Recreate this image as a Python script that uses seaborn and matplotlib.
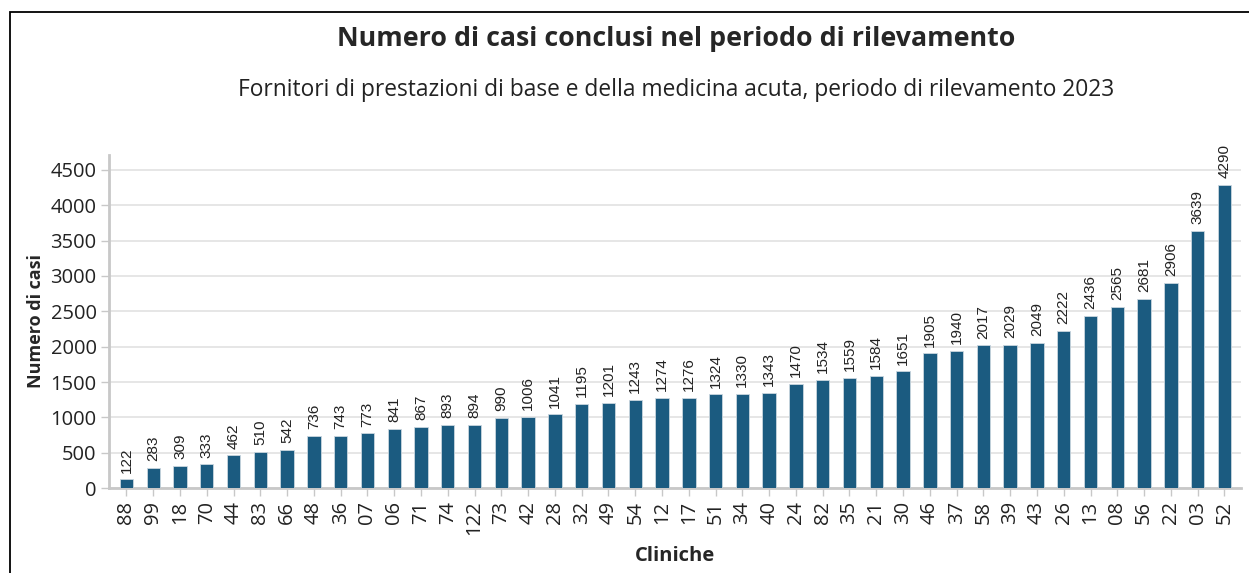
import matplotlib
matplotlib.use("Agg")
import matplotlib.pyplot as plt
import pandas as pd
import seaborn as sns
from matplotlib.patches import Rectangle

# Data
cliniche = ['88', '99', '18', '70', '44', '83', '66', '48', '36', '07', '06', '71', '74', '122',
            '73', '42', '28', '32', '49', '54', '12', '17', '51', '34', '40', '24', '82', '35',
            '21', '30', '46', '37', '58', '39', '43', '26', '13', '08', '56', '22', '03', '52']
casi = [122, 283, 309, 333, 462, 510, 542, 736, 743, 773, 841, 867, 893, 894,
        990, 1006, 1041, 1195, 1201, 1243, 1274, 1276, 1324, 1330, 1343, 1470, 1534, 1559,
        1584, 1651, 1905, 1940, 2017, 2029, 2049, 2222, 2436, 2565, 2681, 2906, 3639, 4290]
y_ticks = [0, 500, 1000, 1500, 2000, 2500, 3000, 3500, 4000, 4500]

df = pd.DataFrame({'clinica': cliniche, 'casi': casi})

sns.set_theme(style='white')
plt.rcParams['font.family'] = ['Open Sans', 'DejaVu Sans']

bar_color = '#1b5b80'
fig = plt.figure(figsize=(12.49, 5.73), dpi=100)
ax = fig.add_axes([0.0873, 0.1483, 0.9063, 0.5812])

sns.barplot(data=df, x='clinica', y='casi', color=bar_color, width=0.5,
            edgecolor='#c9d6df', linewidth=0.6, saturation=1, ax=ax, zorder=3)

# value labels above bars
for i, v in enumerate(casi):
    ax.text(i, v + 95, str(v), rotation=90, ha='center', va='bottom',
            fontsize=11, family='Liberation Sans', color='#222222')

ax.set_ylim(0, 4712)
ax.set_xlim(-0.65, len(cliniche) - 1 + 0.62)
ax.set_yticks(y_ticks)
ax.set_yticklabels([str(t) for t in y_ticks], fontsize=14.5, color='#222222')
ax.set_xticks(range(len(cliniche)))
ax.set_xticklabels(cliniche, rotation=90, fontsize=14.5, color='#222222')
ax.grid(axis='y', color='#e2e2e2', linewidth=1.2, zorder=0)

for s in ['top', 'right']:
    ax.spines[s].set_visible(False)
for s in ['left', 'bottom']:
    ax.spines[s].set_color('#c8c8c8')
    ax.spines[s].set_linewidth(2)
ax.tick_params(axis='both', which='both', length=6, width=1, color='#c8c8c8',
               left=True, bottom=True, pad=3)

ax.set_xlabel('Cliniche', fontsize=14.5, fontweight='bold', labelpad=8)
ax.set_ylabel('Numero di casi', fontsize=13, fontweight='bold', labelpad=4)

fig.text(0.541, 0.932, 'Numero di casi conclusi nel periodo di rilevamento',
         ha='center', va='center', fontsize=19.3, fontweight='bold')
fig.text(0.541, 0.843, 'Fornitori di prestazioni di base e della medicina acuta, periodo di rilevamento 2023',
         ha='center', va='center', fontsize=16.4, color='#222222')

# frame around the figure (right and bottom edges fall outside the image)
fig.patches.append(Rectangle((10 / 1249, -0.1), 1.2, 1.1 - 12 / 573, transform=fig.transFigure,
                             fill=False, edgecolor='black', linewidth=1.3))

fig.savefig('out.png', dpi=100)
